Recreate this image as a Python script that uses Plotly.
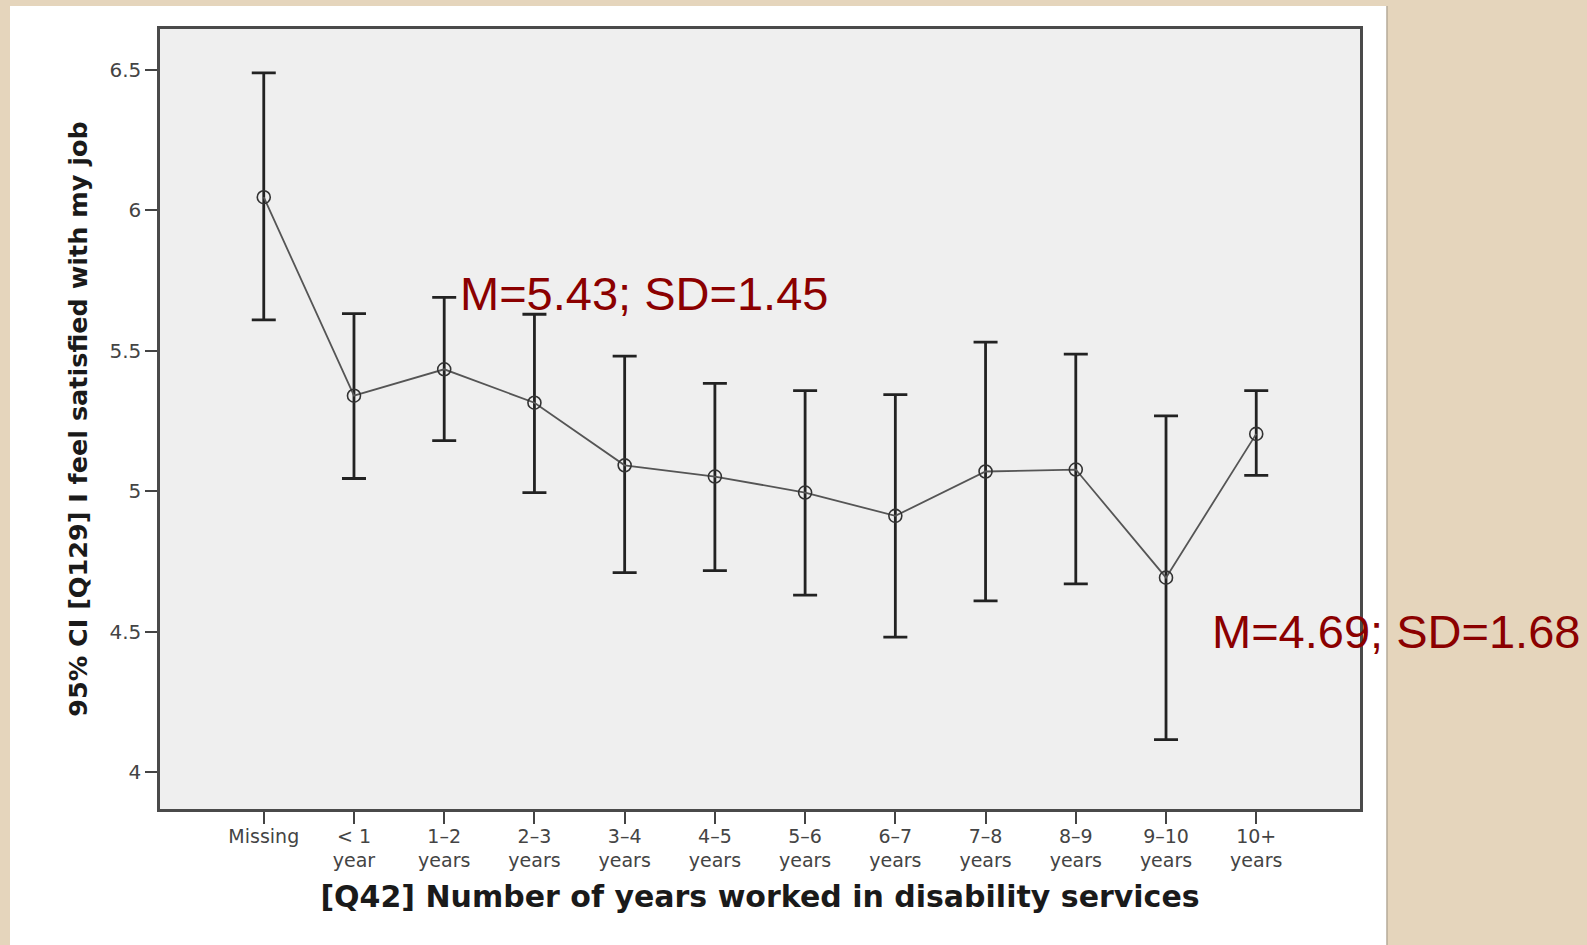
import plotly.graph_objects as go

categories = ["Missing", "< 1<br>year", "1\u20132<br>years", "2\u20133<br>years", "3\u20134<br>years",
              "4\u20135<br>years", "5\u20136<br>years", "6\u20137<br>years", "7\u20138<br>years",
              "8\u20139<br>years", "9\u201310<br>years", "10+<br>years"]
means = [6.047, 5.34, 5.434, 5.315, 5.092, 5.052, 4.995, 4.912, 5.07, 5.077, 4.692, 5.204]
ci_upper = [6.49, 5.632, 5.69, 5.63, 5.481, 5.384, 5.358, 5.344, 5.531, 5.488, 5.268, 5.358]
ci_lower = [5.61, 5.045, 5.18, 4.995, 4.71, 4.717, 4.63, 4.48, 4.609, 4.67, 4.115, 5.056]
y_ticks = [4, 4.5, 5, 5.5, 6, 6.5]
y_ticktext = ["4", "4.5", "5", "5.5", "6", "6.5"]

x_idx = list(range(len(categories)))
err_plus = [u - m for u, m in zip(ci_upper, means)]
err_minus = [m - l for m, l in zip(means, ci_lower)]

W, H = 1587, 945
L, R, T, B = 160, 1360, 29, 809
pw, ph = R - L, B - T

def px(x):
    return (x - L) / pw

def py(y):
    return (B - y) / ph

fig = go.Figure()
fig.add_trace(go.Scatter(
    x=x_idx, y=means, mode="lines+markers",
    line=dict(color="#555555", width=1.8),
    marker=dict(symbol="circle-open", size=13, color="#333333", line=dict(width=1.6, color="#333333")),
    error_y=dict(type="data", symmetric=False, array=err_plus, arrayminus=err_minus,
                 color="#222222", thickness=2.8, width=12),
    showlegend=False, hoverinfo="skip",
))

fig.add_annotation(x=px(458), y=py(293), xref="paper", yref="paper", text="M=5.43; SD=1.45",
                   showarrow=False, xanchor="left", yanchor="middle",
                   font=dict(family="Liberation Sans, Arial", size=47, color="#8B0000"))
fig.add_annotation(x=px(1210), y=py(631), xref="paper", yref="paper", text="M=4.69; SD=1.68",
                   showarrow=False, xanchor="left", yanchor="middle",
                   font=dict(family="Liberation Sans, Arial", size=47, color="#8B0000"))

shapes = [
    dict(type="rect", xref="paper", yref="paper", x0=px(10), x1=px(1387), y0=py(6), y1=py(945),
         fillcolor="white", line=dict(width=0), layer="below"),
    dict(type="line", xref="paper", yref="paper", x0=px(1387), x1=px(1387), y0=py(6), y1=py(945),
         line=dict(width=1.5, color="#b5aa98"), layer="below"),
    dict(type="rect", xref="paper", yref="paper", x0=0, x1=1, y0=0, y1=1,
         fillcolor="#efefef", line=dict(width=0), layer="below"),
]

fig.update_layout(
    width=W, height=H,
    margin=dict(l=L, r=W - R, t=T, b=H - B, pad=0),
    paper_bgcolor="#e5d5bc",
    plot_bgcolor="rgba(0,0,0,0)",
    shapes=shapes,
    xaxis=dict(range=[-1.15, 12.15], tickmode="array", tickvals=x_idx, ticktext=categories,
               showgrid=False, zeroline=False, showline=True, mirror=True,
               linecolor="#4a4a4a", linewidth=2.5, ticks="outside", ticklen=12, tickwidth=2,
               tickcolor="#444444", ticklabelstandoff=-4,
               tickfont=dict(family="DejaVu Sans", size=19, color="#444444"),
               title=dict(text="[Q42] Number of years worked in disability services",
                          font=dict(family="DejaVu Sans", size=30, color="#1a1a1a", weight="bold"),
                          standoff=16)),
    yaxis=dict(range=[3.868, 6.646], tickmode="array", tickvals=y_ticks, ticktext=y_ticktext,
               showgrid=False, zeroline=False, showline=True, mirror=True,
               linecolor="#4a4a4a", linewidth=2.5, ticks="outside", ticklen=12, tickwidth=2,
               tickcolor="#444444",
               tickfont=dict(family="DejaVu Sans", size=20, color="#444444"),
               title=dict(text="95% CI [Q129] I feel satisfied with my job",
                          font=dict(family="DejaVu Sans", size=25.5, color="#1a1a1a", weight="bold"),
                          standoff=15)),
)

fig.write_html("out.html", config={"displayModeBar": False},
               post_script="document.body.style.margin='0';document.body.style.overflow='hidden';"
                           "document.body.style.background='#e5d5bc';")
